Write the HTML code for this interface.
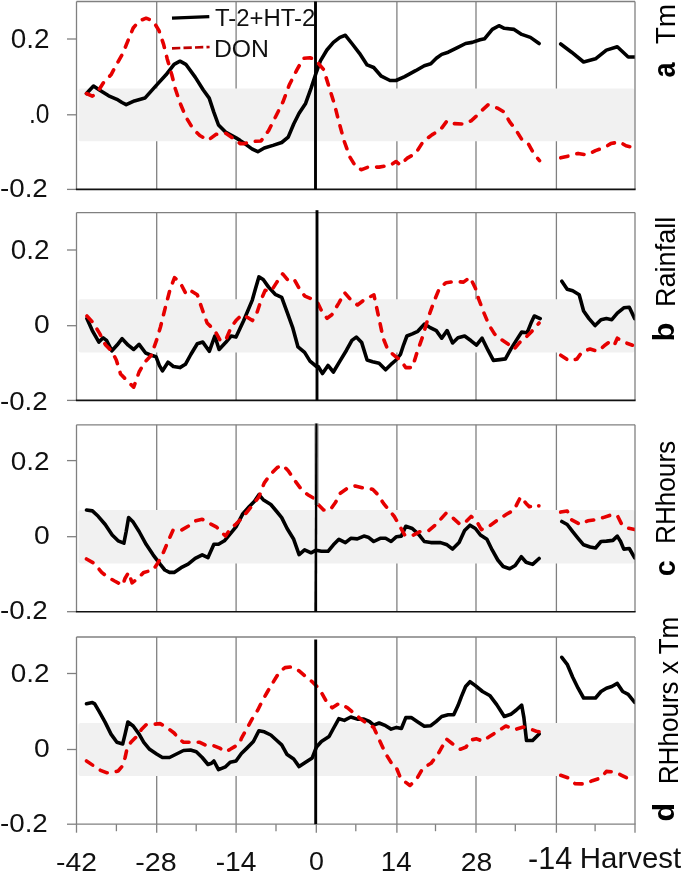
<!DOCTYPE html>
<html><head><meta charset="utf-8"><style>html,body{margin:0;padding:0;background:#fff;width:685px;height:872px;overflow:hidden}</style></head><body>
<svg width="685" height="872" viewBox="0 0 685 872" style="display:block;filter:blur(0.4px)">
<defs>
<clipPath id="clipa"><rect x="76.5" y="-1.5" width="558.2" height="193.9"/></clipPath>
<clipPath id="clipb"><rect x="76.5" y="209.6" width="558.2" height="193.8"/></clipPath>
<clipPath id="clipc"><rect x="76.5" y="421.8" width="558.2" height="192.9"/></clipPath>
<clipPath id="clipd"><rect x="76.5" y="634.0" width="558.2" height="193.2"/></clipPath>
</defs>
<rect x="0" y="0" width="685" height="872" fill="#fff"/>
<line x1="156.7" y1="1.5" x2="156.7" y2="189.4" stroke="#808080" stroke-width="1.3"/>
<line x1="236.1" y1="1.5" x2="236.1" y2="189.4" stroke="#808080" stroke-width="1.3"/>
<line x1="396.9" y1="1.5" x2="396.9" y2="189.4" stroke="#808080" stroke-width="1.3"/>
<line x1="476.0" y1="1.5" x2="476.0" y2="189.4" stroke="#808080" stroke-width="1.3"/>
<line x1="556.4" y1="1.5" x2="556.4" y2="189.4" stroke="#808080" stroke-width="1.3"/>
<rect x="78.5" y="88.5" width="556.1" height="52.8" rx="2" fill="#f1f1f1"/>
<line x1="76.5" y1="1.5" x2="635.0" y2="1.5" stroke="#808080" stroke-width="1.3"/>
<line x1="76.5" y1="1.5" x2="76.5" y2="189.4" stroke="#808080" stroke-width="1.3"/>
<line x1="635.0" y1="1.5" x2="635.0" y2="189.4" stroke="#808080" stroke-width="1.3"/>
<line x1="67" y1="39" x2="76.5" y2="39" stroke="#808080" stroke-width="1.3"/>
<line x1="67" y1="114.8" x2="76.5" y2="114.8" stroke="#808080" stroke-width="1.3"/>
<line x1="67" y1="189.4" x2="76.5" y2="189.4" stroke="#808080" stroke-width="1.3"/>
<line x1="75.9" y1="189.4" x2="635.6" y2="189.4" stroke="#111" stroke-width="1.6"/>
<g clip-path="url(#clipa)">
<polyline points="86.5,93.5 93.5,86.0 99.4,90.0 108.7,95.8 116.9,99.3 122.0,102.5 126.2,104.7 134.4,100.9 144.9,98.1 155.4,86.4 166.0,74.8 174.1,64.3 180.0,61.2 185.8,64.3 195.2,77.1 203.3,90.0 209.2,98.1 213.8,112.1 218.5,125.0 225.5,132.0 236.0,137.9 240.0,140.4 244.7,143.6 252.3,149.1 257.8,151.7 264.3,148.0 273.0,145.4 281.7,142.5 288.2,137.1 293.7,124.0 299.1,113.2 305.6,103.4 311.1,88.1 316.5,71.8 320.4,60.9 326.9,50.0 333.4,42.4 339.9,37.4 345.4,35.3 351.9,43.5 359.5,53.3 367.1,64.9 373.7,67.5 381.3,76.2 390.0,80.5 396.0,80.5 404.7,76.6 415.6,70.7 424.3,65.7 430.8,63.8 436.3,58.3 441.7,54.4 448.2,52.2 456.9,47.9 465.6,43.5 472.2,42.4 480.0,39.8 484.7,38.7 492.3,29.4 498.9,25.7 504.3,28.3 514.1,29.4 521.7,34.4 530.4,37.4 539.1,43.5" fill="none" stroke="#000" stroke-width="3.6" stroke-linecap="round" stroke-linejoin="round"/>
<polyline points="560.7,44.0 571.6,52.2 583.6,62.0 595.5,58.8 606.4,50.1 617.3,46.8 628.2,57.0 636.0,57.0" fill="none" stroke="#000" stroke-width="3.6" stroke-linecap="round" stroke-linejoin="round"/>
<polyline points="86.5,93.5 92.3,96.2 95.6,93.6 98.2,91.1 104.0,81.8 111.0,74.8 116.5,64.5 122.7,53.7 127.4,42.1 133.2,28.0 139.1,21.0 146.1,18.2 153.1,21.0 158.9,30.4 163.6,44.4 167.1,58.4 171.8,74.8 175.3,88.8 180.0,102.8 185.8,116.8 192.8,128.5 199.8,135.5 208.0,140.2 216.2,134.3 225.5,133.2 236.0,140.2 240.0,143.6 244.7,143.6 251.2,141.5 261.0,141.0 268.6,130.6 275.2,117.5 282.8,102.3 289.3,84.9 297.0,69.6 303.5,58.3 310.0,57.7 315.4,59.8 318.2,63.1 323.6,69.6 329.1,87.0 334.5,104.5 338.9,121.9 344.3,141.5 349.7,156.7 356.3,167.6 361.7,169.7 368.2,167.1 379.1,167.1 390.0,165.4 396.0,161.5 400.4,165.0 406.9,158.4 415.6,153.4 423.2,141.5 431.9,134.9 440.6,129.5 447.1,120.8 453.7,123.6 463.5,124.0 471.1,120.8 476.0,116.4 482.5,109.9 488.0,104.9 497.8,108.2 504.3,112.1 509.7,121.9 516.3,130.6 521.7,139.3 528.2,143.6 533.7,153.4 539.5,160.6" fill="none" stroke="#e60000" stroke-width="3.6" stroke-dasharray="7.4 9.2" stroke-linecap="round" stroke-linejoin="round"/>
<polyline points="560.7,157.8 570.5,155.6 578.1,153.4 586.8,155.0 595.5,150.6 604.2,147.6 610.8,143.6 619.5,141.9 626.0,145.8 636.0,148.0" fill="none" stroke="#e60000" stroke-width="3.6" stroke-dasharray="7.4 9.2" stroke-linecap="round" stroke-linejoin="round"/>
</g>
<line x1="315.5" y1="1.5" x2="315.5" y2="189.4" stroke="#000" stroke-width="2.9"/>
<line x1="156.7" y1="212.6" x2="156.7" y2="400.4" stroke="#808080" stroke-width="1.3"/>
<line x1="236.1" y1="212.6" x2="236.1" y2="400.4" stroke="#808080" stroke-width="1.3"/>
<line x1="396.9" y1="212.6" x2="396.9" y2="400.4" stroke="#808080" stroke-width="1.3"/>
<line x1="476.0" y1="212.6" x2="476.0" y2="400.4" stroke="#808080" stroke-width="1.3"/>
<line x1="556.4" y1="212.6" x2="556.4" y2="400.4" stroke="#808080" stroke-width="1.3"/>
<rect x="78.5" y="299.3" width="556.1" height="53.2" rx="2" fill="#f1f1f1"/>
<line x1="76.5" y1="212.6" x2="635.0" y2="212.6" stroke="#808080" stroke-width="1.3"/>
<line x1="76.5" y1="212.6" x2="76.5" y2="400.4" stroke="#808080" stroke-width="1.3"/>
<line x1="635.0" y1="212.6" x2="635.0" y2="400.4" stroke="#808080" stroke-width="1.3"/>
<line x1="67" y1="250" x2="76.5" y2="250" stroke="#808080" stroke-width="1.3"/>
<line x1="67" y1="325.7" x2="76.5" y2="325.7" stroke="#808080" stroke-width="1.3"/>
<line x1="67" y1="400.4" x2="76.5" y2="400.4" stroke="#808080" stroke-width="1.3"/>
<line x1="75.9" y1="400.4" x2="635.6" y2="400.4" stroke="#111" stroke-width="1.6"/>
<g clip-path="url(#clipb)">
<polyline points="86.9,318.6 92.3,330.6 98.9,342.1 103.2,337.8 106.5,340.4 111.9,350.8 117.3,344.8 122.1,338.7 128.2,345.2 133.7,349.5 139.1,344.3 145.6,353.0 152.2,355.6 156.0,356.7 159.3,365.4 162.5,370.9 168.0,362.2 173.4,366.5 179.9,367.6 185.4,364.3 190.8,354.5 197.3,343.7 202.8,342.1 209.3,351.3 214.8,336.0 219.1,349.5 225.6,342.6 231.1,336.0 236.0,337.1 243.6,320.8 252.3,300.1 255.6,288.2 258.9,276.9 263.2,279.5 268.6,287.1 275.2,294.3 281.7,297.3 287.1,312.1 292.6,327.3 298.0,346.9 304.6,352.4 310.0,361.1 316.5,366.5 318.2,366.5 322.5,373.5 328.0,365.4 333.4,372.0 339.9,361.1 346.5,350.2 351.9,340.4 356.3,337.1 361.7,342.6 367.1,360.0 372.6,361.7 379.1,363.3 385.6,369.8 392.2,363.3 396.0,360.0 400.4,354.5 403.6,344.8 406.9,336.0 412.3,333.9 417.8,331.3 424.3,324.1 429.7,327.3 436.3,330.6 441.7,338.2 447.1,330.6 452.6,343.0 458.0,337.8 464.6,336.0 471.1,340.8 476.5,345.2 482.1,338.2 488.0,350.2 493.4,360.4 499.9,359.6 505.4,358.9 510.8,349.1 516.3,340.4 521.7,332.1 527.1,332.8 531.5,321.9 534.3,316.0 540.2,318.6" fill="none" stroke="#000" stroke-width="3.6" stroke-linecap="round" stroke-linejoin="round"/>
<polyline points="561.8,281.2 567.2,289.3 572.7,290.8 579.2,294.7 583.6,311.0 589.0,318.6 595.1,325.6 601.0,319.7 606.4,318.6 611.8,319.7 617.3,313.2 623.8,307.8 629.3,307.3 634.7,318.6" fill="none" stroke="#000" stroke-width="3.6" stroke-linecap="round" stroke-linejoin="round"/>
<polyline points="86.9,316.0 93.4,323.0 99.9,333.9 105.4,344.8 111.9,351.3 116.3,360.0 120.6,374.1 127.1,380.7 133.7,387.2 139.1,372.0 144.6,362.2 151.1,355.6 156.5,340.4 160.4,327.3 165.8,305.6 170.1,289.3 174.5,277.7 179.9,282.1 186.5,294.7 191.9,291.4 197.3,294.7 201.7,307.8 207.1,323.0 214.8,330.6 220.2,340.4 225.6,340.4 231.1,327.3 236.0,320.6 241.8,314.8 247.7,317.6 252.4,320.6 257.0,312.5 261.7,298.4 265.2,290.3 271.0,291.4 276.9,282.1 282.7,273.9 288.6,280.9 294.4,279.8 300.3,290.3 304.9,296.1 313.1,299.6 317.8,303.1 322.4,312.5 327.1,318.3 331.8,314.8 338.8,303.1 344.6,292.6 350.5,299.6 357.5,305.0 364.5,299.6 373.9,294.9 376.2,305.5 379.7,321.8 383.2,338.2 387.9,349.9 396.0,356.9 400.4,360.0 405.8,367.6 412.3,367.6 416.7,353.5 422.1,338.2 428.6,316.5 434.1,301.2 439.5,288.2 446.1,282.7 454.8,281.6 463.5,282.1 470.0,277.3 475.4,288.2 478.7,299.1 483.6,312.1 489.1,325.2 494.5,333.9 501.0,339.3 507.6,343.7 514.1,349.1 519.5,342.6 526.1,337.1 531.5,331.7 539.1,323.0" fill="none" stroke="#e60000" stroke-width="3.6" stroke-dasharray="7.4 9.2" stroke-linecap="round" stroke-linejoin="round"/>
<polyline points="560.7,355.2 569.4,361.1 577.0,358.9 582.5,351.3 590.1,349.1 597.7,351.3 604.2,345.8 608.6,342.6 614.0,345.8 617.3,338.2 623.8,342.1 632.5,345.2" fill="none" stroke="#e60000" stroke-width="3.6" stroke-dasharray="7.4 9.2" stroke-linecap="round" stroke-linejoin="round"/>
</g>
<line x1="317.0" y1="210.2" x2="317.0" y2="400.4" stroke="#000" stroke-width="2.9"/>
<line x1="156.7" y1="424.8" x2="156.7" y2="611.7" stroke="#808080" stroke-width="1.3"/>
<line x1="236.1" y1="424.8" x2="236.1" y2="611.7" stroke="#808080" stroke-width="1.3"/>
<line x1="396.9" y1="424.8" x2="396.9" y2="611.7" stroke="#808080" stroke-width="1.3"/>
<line x1="476.0" y1="424.8" x2="476.0" y2="611.7" stroke="#808080" stroke-width="1.3"/>
<line x1="556.4" y1="424.8" x2="556.4" y2="611.7" stroke="#808080" stroke-width="1.3"/>
<rect x="78.5" y="510.1" width="556.1" height="53.4" rx="2" fill="#f1f1f1"/>
<line x1="76.5" y1="424.8" x2="635.0" y2="424.8" stroke="#808080" stroke-width="1.3"/>
<line x1="76.5" y1="424.8" x2="76.5" y2="611.7" stroke="#808080" stroke-width="1.3"/>
<line x1="635.0" y1="424.8" x2="635.0" y2="611.7" stroke="#808080" stroke-width="1.3"/>
<line x1="67" y1="460.6" x2="76.5" y2="460.6" stroke="#808080" stroke-width="1.3"/>
<line x1="67" y1="536.7" x2="76.5" y2="536.7" stroke="#808080" stroke-width="1.3"/>
<line x1="67" y1="611.7" x2="76.5" y2="611.7" stroke="#808080" stroke-width="1.3"/>
<line x1="75.9" y1="611.7" x2="635.6" y2="611.7" stroke="#111" stroke-width="1.6"/>
<g clip-path="url(#clipc)">
<polyline points="86.5,510.0 92.4,510.9 98.2,516.3 105.2,524.5 112.2,535.0 118.1,540.8 123.9,543.2 126.2,531.5 128.6,517.5 133.2,522.1 139.1,531.5 146.1,544.3 153.1,554.8 160.1,564.2 164.8,570.0 169.5,572.4 174.1,572.4 181.1,567.7 188.1,564.2 195.2,558.3 202.2,554.8 208.0,557.6 213.9,544.3 218.5,544.3 224.4,540.8 230.2,533.8 236.0,526.8 242.5,514.3 249.1,506.7 254.5,501.3 258.9,494.7 263.2,499.7 270.8,504.5 276.3,511.0 281.7,517.6 287.1,528.5 293.7,539.3 299.1,554.6 304.6,549.8 311.1,552.8 316.0,550.2 321.4,551.3 328.0,551.3 333.4,544.8 338.9,539.3 345.4,542.6 350.8,538.3 357.3,538.9 363.9,536.1 368.2,537.2 373.7,541.5 380.2,538.3 385.6,538.3 391.1,541.5 396.5,536.7 401.4,536.1 405.8,526.3 412.3,528.5 418.9,534.6 424.3,541.5 430.8,542.6 440.6,542.6 447.1,544.8 452.6,549.1 459.1,542.6 464.6,530.6 470.0,525.2 475.4,528.5 480.4,535.0 486.9,539.3 492.3,550.2 497.8,560.0 503.2,566.5 509.7,568.7 515.2,565.5 521.3,556.7 526.1,562.2 532.6,564.4 539.1,558.5" fill="none" stroke="#000" stroke-width="3.6" stroke-linecap="round" stroke-linejoin="round"/>
<polyline points="561.8,521.5 567.2,524.5 572.7,531.7 578.1,538.3 583.6,544.8 590.1,547.0 595.5,548.0 601.0,541.5 606.4,541.1 612.9,540.4 617.3,536.1 620.6,541.5 623.8,549.1 629.3,548.5 634.7,557.8" fill="none" stroke="#000" stroke-width="3.6" stroke-linecap="round" stroke-linejoin="round"/>
<polyline points="86.5,559.0 94.7,563.7 101.7,572.4 107.5,577.0 114.6,581.0 122.7,585.2 125.1,578.2 128.6,572.4 132.1,582.9 137.9,578.2 143.8,572.4 153.1,570.0 157.8,563.0 162.4,554.8 168.3,540.8 173.0,530.3 181.1,530.3 188.1,526.3 195.2,521.0 202.2,519.3 209.2,523.3 216.2,526.8 222.0,532.6 225.5,536.1 230.2,529.1 236.0,524.0 242.5,517.6 251.2,506.7 258.9,496.9 264.3,482.8 270.8,474.1 277.3,467.5 282.8,465.3 288.2,470.8 294.8,480.6 301.3,489.3 307.8,494.7 313.3,498.0 317.1,503.4 323.6,510.0 330.1,510.0 335.6,502.3 339.9,493.6 346.5,488.9 355.2,486.0 363.9,488.2 372.6,489.3 378.0,494.7 383.5,503.4 388.9,510.0 394.3,516.5 398.7,524.1 404.7,535.0 411.2,536.1 419.9,531.7 428.6,530.6 436.3,524.1 446.1,513.2 452.6,517.6 460.2,524.5 465.6,521.9 471.1,516.5 476.5,520.8 481.4,529.6 489.1,526.3 497.8,519.8 506.5,514.3 514.1,510.0 517.3,503.4 520.6,496.9 526.1,503.4 529.3,506.7 534.8,505.6 539.1,505.6" fill="none" stroke="#e60000" stroke-width="3.6" stroke-dasharray="7.4 9.2" stroke-linecap="round" stroke-linejoin="round"/>
<polyline points="560.7,512.1 567.2,511.0 571.6,519.8 580.3,524.5 587.9,520.8 595.5,519.8 603.1,517.6 609.7,515.4 617.3,515.4 621.6,524.1 627.1,528.0 634.7,529.6" fill="none" stroke="#e60000" stroke-width="3.6" stroke-dasharray="7.4 9.2" stroke-linecap="round" stroke-linejoin="round"/>
<circle cx="538.8" cy="505.8" r="1.9" fill="#e60000"/>
</g>
<line x1="316.5" y1="423.5" x2="316.5" y2="505" stroke="#999" stroke-width="4.2"/>
<polygon points="315.4,423.5 317.4,423.5 317.1,611.7 314.3,611.7" fill="#000"/>
<line x1="156.7" y1="637.0" x2="156.7" y2="824.2" stroke="#808080" stroke-width="1.3"/>
<line x1="236.1" y1="637.0" x2="236.1" y2="824.2" stroke="#808080" stroke-width="1.3"/>
<line x1="396.9" y1="637.0" x2="396.9" y2="824.2" stroke="#808080" stroke-width="1.3"/>
<line x1="476.0" y1="637.0" x2="476.0" y2="824.2" stroke="#808080" stroke-width="1.3"/>
<line x1="556.4" y1="637.0" x2="556.4" y2="824.2" stroke="#808080" stroke-width="1.3"/>
<rect x="78.5" y="722.9" width="556.1" height="53.0" rx="2" fill="#f1f1f1"/>
<line x1="76.5" y1="637.0" x2="635.0" y2="637.0" stroke="#808080" stroke-width="1.3"/>
<line x1="76.5" y1="637.0" x2="76.5" y2="824.2" stroke="#808080" stroke-width="1.3"/>
<line x1="635.0" y1="637.0" x2="635.0" y2="824.2" stroke="#808080" stroke-width="1.3"/>
<line x1="67" y1="673.5" x2="76.5" y2="673.5" stroke="#808080" stroke-width="1.3"/>
<line x1="67" y1="749.5" x2="76.5" y2="749.5" stroke="#808080" stroke-width="1.3"/>
<line x1="67" y1="824.2" x2="76.5" y2="824.2" stroke="#808080" stroke-width="1.3"/>
<line x1="75.9" y1="824.2" x2="635.6" y2="824.2" stroke="#808080" stroke-width="1.3"/>
<g clip-path="url(#clipd)">
<polyline points="86.5,703.8 92.4,702.6 94.7,703.8 99.4,711.9 105.2,722.4 111.0,734.1 116.9,742.3 122.7,743.9 125.1,734.1 127.9,722.0 133.2,726.0 139.1,734.1 143.8,742.3 149.6,749.3 156.6,754.0 162.4,757.5 169.5,757.5 176.5,754.0 183.5,750.5 190.5,750.0 196.3,751.7 202.2,757.5 208.0,764.5 211.5,763.3 213.9,761.0 218.5,769.6 225.5,766.8 230.2,762.2 236.0,761.0 241.4,753.5 246.9,748.1 253.4,741.5 258.9,730.7 264.3,731.8 270.8,735.0 276.3,740.0 281.7,744.8 287.1,754.6 293.7,759.0 299.1,766.6 305.6,762.2 312.2,757.9 316.5,747.0 321.4,741.5 329.1,736.5 333.4,728.5 338.9,718.7 344.3,720.4 350.8,717.0 357.3,719.1 363.9,719.1 369.3,721.3 373.7,725.2 379.1,723.0 385.6,725.7 391.1,729.1 396.5,727.4 401.4,728.5 405.8,717.6 411.2,717.6 417.8,722.0 424.3,726.3 430.8,725.7 436.3,721.3 441.7,716.5 448.2,714.8 453.7,714.8 458.0,705.6 461.3,696.9 465.6,686.5 470.0,681.7 475.4,685.6 482.5,691.5 490.1,695.8 496.7,704.6 504.3,716.5 510.8,714.3 516.3,710.0 521.7,705.2 523.9,717.6 526.5,740.5 532.6,740.5 539.1,733.9" fill="none" stroke="#000" stroke-width="3.6" stroke-linecap="round" stroke-linejoin="round"/>
<polyline points="561.8,657.3 567.2,664.3 572.7,677.3 578.1,688.2 583.6,698.0 590.1,698.0 595.5,698.0 601.0,691.5 606.4,688.2 611.8,686.5 617.3,683.4 622.7,691.5 628.2,694.3 634.7,702.4" fill="none" stroke="#000" stroke-width="3.6" stroke-linecap="round" stroke-linejoin="round"/>
<polyline points="86.5,761.0 93.5,765.7 100.5,770.3 106.4,772.7 112.2,772.7 118.1,771.0 122.7,765.7 125.1,757.5 126.9,749.3 130.9,742.3 136.7,736.5 141.4,729.5 146.1,724.8 153.1,724.3 160.1,723.6 167.1,727.6 174.1,733.0 178.8,738.8 183.5,742.3 192.8,742.3 199.8,742.3 206.8,745.8 213.9,745.8 219.7,748.1 225.5,751.7 230.2,749.3 236.0,745.8 240.0,742.6 241.4,738.3 246.9,728.5 252.3,718.7 257.8,710.0 262.1,701.3 267.6,691.5 274.1,680.6 279.5,671.9 285.0,667.6 291.5,666.9 299.1,670.8 306.7,677.3 312.2,681.7 317.6,687.1 321.4,692.6 326.9,702.4 332.3,707.8 338.9,703.5 347.6,707.8 354.1,713.3 361.7,719.8 368.2,724.1 373.7,727.4 379.1,739.4 385.6,753.5 392.2,764.4 396.0,766.8 400.7,778.5 410.0,785.5 417.0,778.5 422.9,768.0 431.0,763.3 438.1,754.0 442.7,745.8 446.2,738.8 452.1,743.5 460.3,749.3 466.1,747.0 470.8,740.0 476.6,738.8 482.4,741.1 489.5,736.5 498.8,730.6 505.8,726.0 515.2,729.5 523.3,727.1 531.5,729.5 536.2,731.3 539.0,731.8" fill="none" stroke="#e60000" stroke-width="3.6" stroke-dasharray="7.4 9.2" stroke-linecap="round" stroke-linejoin="round"/>
<polyline points="560.7,775.3 568.3,777.9 574.9,783.6 584.6,784.0 592.3,780.7 601.0,777.9 606.4,771.4 615.1,772.0 621.6,775.3 628.2,778.5" fill="none" stroke="#e60000" stroke-width="3.6" stroke-dasharray="7.4 9.2" stroke-linecap="round" stroke-linejoin="round"/>
</g>
<line x1="315.7" y1="639.5" x2="315.7" y2="824.2" stroke="#000" stroke-width="2.9"/>
<line x1="76.5" y1="824.2" x2="76.5" y2="832.7" stroke="#808080" stroke-width="1.3"/>
<line x1="156.7" y1="824.2" x2="156.7" y2="832.7" stroke="#808080" stroke-width="1.3"/>
<line x1="236.1" y1="824.2" x2="236.1" y2="832.7" stroke="#808080" stroke-width="1.3"/>
<line x1="316.3" y1="824.2" x2="316.3" y2="832.7" stroke="#808080" stroke-width="1.3"/>
<line x1="396.9" y1="824.2" x2="396.9" y2="832.7" stroke="#808080" stroke-width="1.3"/>
<line x1="476.0" y1="824.2" x2="476.0" y2="832.7" stroke="#808080" stroke-width="1.3"/>
<line x1="556.4" y1="824.2" x2="556.4" y2="832.7" stroke="#808080" stroke-width="1.3"/>
<line x1="635.0" y1="824.2" x2="635.0" y2="832.7" stroke="#808080" stroke-width="1.3"/>
<line x1="116.4" y1="824.2" x2="116.4" y2="831.2" stroke="#808080" stroke-width="1.3"/>
<line x1="196.2" y1="824.2" x2="196.2" y2="831.2" stroke="#808080" stroke-width="1.3"/>
<line x1="276.0" y1="824.2" x2="276.0" y2="831.2" stroke="#808080" stroke-width="1.3"/>
<line x1="355.8" y1="824.2" x2="355.8" y2="831.2" stroke="#808080" stroke-width="1.3"/>
<line x1="435.5" y1="824.2" x2="435.5" y2="831.2" stroke="#808080" stroke-width="1.3"/>
<line x1="515.3" y1="824.2" x2="515.3" y2="831.2" stroke="#808080" stroke-width="1.3"/>
<line x1="595.1" y1="824.2" x2="595.1" y2="831.2" stroke="#808080" stroke-width="1.3"/>
<text transform="translate(10.73,47.94) scale(1.0726,1.0270)" font-family='"Liberation Sans", sans-serif' font-weight="normal" font-size="26" fill="#111">0.2</text>
<text transform="translate(28.97,122.74) scale(0.9459,1.0378)" font-family='"Liberation Sans", sans-serif' font-weight="normal" font-size="26" fill="#111">.0</text>
<text transform="translate(-0.03,197.35) scale(1.0675,1.0108)" font-family='"Liberation Sans", sans-serif' font-weight="normal" font-size="26" fill="#111">-0.2</text>
<text transform="translate(10.73,258.94) scale(1.0726,1.0270)" font-family='"Liberation Sans", sans-serif' font-weight="normal" font-size="26" fill="#111">0.2</text>
<text transform="translate(33.91,333.25) scale(1.0880,0.9946)" font-family='"Liberation Sans", sans-serif' font-weight="normal" font-size="26" fill="#111">0</text>
<text transform="translate(-0.03,409.55) scale(1.0627,1.0000)" font-family='"Liberation Sans", sans-serif' font-weight="normal" font-size="26" fill="#111">-0.2</text>
<text transform="translate(10.73,469.85) scale(1.0726,0.9946)" font-family='"Liberation Sans", sans-serif' font-weight="normal" font-size="26" fill="#111">0.2</text>
<text transform="translate(33.91,544.35) scale(1.0880,1.0108)" font-family='"Liberation Sans", sans-serif' font-weight="normal" font-size="26" fill="#111">0</text>
<text transform="translate(-0.03,619.35) scale(1.0675,1.0108)" font-family='"Liberation Sans", sans-serif' font-weight="normal" font-size="26" fill="#111">-0.2</text>
<text transform="translate(10.73,682.35) scale(1.0726,1.0162)" font-family='"Liberation Sans", sans-serif' font-weight="normal" font-size="26" fill="#111">0.2</text>
<text transform="translate(33.91,756.65) scale(1.0880,0.9838)" font-family='"Liberation Sans", sans-serif' font-weight="normal" font-size="26" fill="#111">0</text>
<text transform="translate(-0.03,831.65) scale(1.0675,1.0108)" font-family='"Liberation Sans", sans-serif' font-weight="normal" font-size="26" fill="#111">-0.2</text>
<text transform="translate(56.04,870.80) scale(1.0886,1.0137)" font-family='"Liberation Sans", sans-serif' font-weight="normal" font-size="26" fill="#111">-42</text>
<text transform="translate(135.22,870.65) scale(1.1035,1.0162)" font-family='"Liberation Sans", sans-serif' font-weight="normal" font-size="26" fill="#111">-28</text>
<text transform="translate(215.64,870.90) scale(1.0845,1.0444)" font-family='"Liberation Sans", sans-serif' font-weight="normal" font-size="26" fill="#111">-14</text>
<text transform="translate(309.07,870.45) scale(1.0320,0.9946)" font-family='"Liberation Sans", sans-serif' font-weight="normal" font-size="26" fill="#111">0</text>
<text transform="translate(380.77,870.90) scale(1.0629,1.0556)" font-family='"Liberation Sans", sans-serif' font-weight="normal" font-size="26" fill="#111">14</text>
<text transform="translate(460.84,870.65) scale(1.0906,1.0162)" font-family='"Liberation Sans", sans-serif' font-weight="normal" font-size="26" fill="#111">28</text>
<text transform="translate(528.04,869.10) scale(1.0909,1.1117)" font-family='"Liberation Sans", sans-serif' font-weight="normal" font-size="28" fill="#111">-14</text>
<text transform="translate(579.84,868.23) scale(1.0511,1.0718)" font-family='"Liberation Sans", sans-serif' font-weight="normal" font-size="28" fill="#111">Harvest</text>
<text transform="translate(215.08,26.20) scale(1.0396,1.0562)" font-family='"Liberation Sans", sans-serif' font-weight="normal" font-size="23" fill="#111">T-2+HT-2</text>
<text transform="translate(213.95,57.05) scale(1.0772,1.0092)" font-family='"Liberation Sans", sans-serif' font-weight="normal" font-size="23" fill="#111">DON</text>
<text transform="translate(675.10,44.34) scale(1.0722,1.0780) rotate(-90)" font-family='"Liberation Sans", sans-serif' font-weight="normal" font-size="26" fill="#000">Tm</text>
<text transform="translate(674.80,77.38) scale(1.1930,1.0429) rotate(-90)" font-family='"Liberation Sans", sans-serif' font-weight="bold" font-size="26" fill="#000">a</text>
<text transform="translate(674.53,306.98) scale(1.0632,1.0410) rotate(-90)" font-family='"Liberation Sans", sans-serif' font-weight="normal" font-size="26" fill="#000">Rainfall</text>
<text transform="translate(674.22,341.59) scale(1.1053,1.1923) rotate(-90)" font-family='"Liberation Sans", sans-serif' font-weight="bold" font-size="26" fill="#000">b</text>
<text transform="translate(675.44,544.01) scale(1.0474,1.0065) rotate(-90)" font-family='"Liberation Sans", sans-serif' font-weight="normal" font-size="26" fill="#000">RHhours</text>
<text transform="translate(675.41,576.31) scale(1.1649,1.1059) rotate(-90)" font-family='"Liberation Sans", sans-serif' font-weight="bold" font-size="26" fill="#000">c</text>
<text transform="translate(677.73,784.21) scale(1.0632,1.0031) rotate(-90)" font-family='"Liberation Sans", sans-serif' font-weight="normal" font-size="26" fill="#000">RHhours x Tm</text>
<text transform="translate(673.92,821.57) scale(1.1053,1.1698) rotate(-90)" font-family='"Liberation Sans", sans-serif' font-weight="bold" font-size="26" fill="#000">d</text>
<line x1="172" y1="18.1" x2="209.3" y2="16.6" stroke="#000" stroke-width="3.4"/>
<line x1="172" y1="48.3" x2="209.6" y2="47" stroke="#c00000" stroke-width="2.7" stroke-dasharray="8.3 3.2"/>
</svg>
</body></html>
